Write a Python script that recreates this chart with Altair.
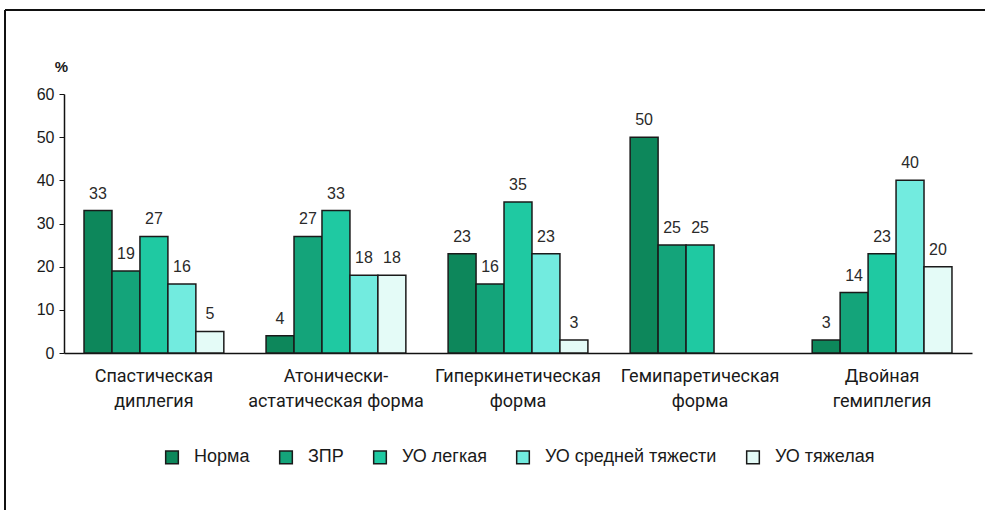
import altair as alt
import pandas as pd

categories = [
    "Спастическая\nдиплегия",
    "Атонически-\nастатическая форма",
    "Гиперкинетическая\nформа",
    "Гемипаретическая\nформа",
    "Двойная\nгемиплегия",
]
series = ["Норма", "ЗПР", "УО легкая", "УО средней тяжести", "УО тяжелая"]
colors = ["#0d875b", "#14a47a", "#1fc9a2", "#72ebdf", "#e4fbf7"]

values = {
    "Спастическая\nдиплегия": [33, 19, 27, 16, 5],
    "Атонически-\nастатическая форма": [4, 27, 33, 18, 18],
    "Гиперкинетическая\nформа": [23, 16, 35, 23, 3],
    "Гемипаретическая\nформа": [50, 25, 25, None, None],
    "Двойная\nгемиплегия": [3, 14, 23, 40, 20],
}
y_ticks = [0, 10, 20, 30, 40, 50, 60]

rows = []
for c in categories:
    for s, v in zip(series, values[c]):
        if v is not None:
            rows.append({"cat": c, "series": s, "value": v})
df = pd.DataFrame(rows)

FONT = "Liberation Sans"
NARROW = "Liberation Sans Narrow, Roboto, sans-serif"

x_enc = alt.X(
    "cat:N",
    sort=categories,
    scale=alt.Scale(paddingInner=0.232, paddingOuter=0.11),
    axis=alt.Axis(
        title=None,
        labelAngle=0,
        labelExpr="split(datum.label, '\\n')",
        labelFont=NARROW,
        labelFontSize=18,
        labelColor="#1a1a1a",
        labelPadding=14,
        labelLineHeight=25,
        ticks=False,
        domainColor="#111111",
        domainWidth=1.5,
    ),
)
xoff = alt.XOffset("series:N", sort=series, scale=alt.Scale(domain=series, paddingInner=0))

bars = alt.Chart(df).mark_bar(stroke="#1a1a1a", strokeWidth=1.5).encode(
    x=x_enc,
    xOffset=xoff,
    y=alt.Y(
        "value:Q",
        scale=alt.Scale(domain=[0, 60], nice=False),
        axis=alt.Axis(
            values=y_ticks,
            title="%",
            titleAngle=0,
            titleAlign="center",
            titleX=-3,
            titleY=-20,
            titleFont=FONT,
            titleFontSize=15,
            titleFontWeight="bold",
            titleColor="#1a1a1a",
            labelFont=FONT,
            labelFontSize=16,
            labelColor="#1a1a1a",
            labelPadding=5,
            tickSize=5,
            tickColor="#111111",
            domainColor="#111111",
            domainWidth=1.5,
            grid=False,
        ),
    ),
    color=alt.Color(
        "series:N",
        sort=series,
        scale=alt.Scale(domain=series, range=colors),
        legend=alt.Legend(
            title=None,
            orient="none",
            direction="horizontal",
            legendX=99,
            legendY=354,
            symbolType="square",
            symbolSize=160,
            symbolStrokeColor="#1a1a1a",
            symbolStrokeWidth=1.5,
            symbolOpacity=1,
            labelFont=FONT,
            labelFontSize=18,
            labelColor="#1a1a1a",
            labelOffset=13,
            columnPadding=26,
            labelLimit=300,
        ),
    ),
)

labels = alt.Chart(df).mark_text(
    baseline="bottom", dy=-9, font=FONT, fontSize=16, color="#2a2a2a"
).encode(
    x=alt.X("cat:N", sort=categories),
    xOffset=xoff,
    y="value:Q",
    text="value:Q",
)

one = pd.DataFrame({"a": [0]})
frame_top = alt.Chart(one).mark_rule(color="#111111", strokeWidth=2).encode(
    x=alt.value(-59), x2=alt.value(921), y=alt.value(-84)
)
frame_left = alt.Chart(one).mark_rule(color="#111111", strokeWidth=2).encode(
    x=alt.value(-59), y=alt.value(-84), y2=alt.value(420)
)

chart = (
    alt.layer(bars, labels, frame_top, frame_left)
    .properties(
        width=908,
        height=259,
        padding={"left": 64, "top": 94, "right": 16, "bottom": 157},
        autosize="none",
        background="white",
    )
    .configure_view(stroke=None)
)

chart.save("out.html", embed_options={"renderer": "svg", "actions": False})
